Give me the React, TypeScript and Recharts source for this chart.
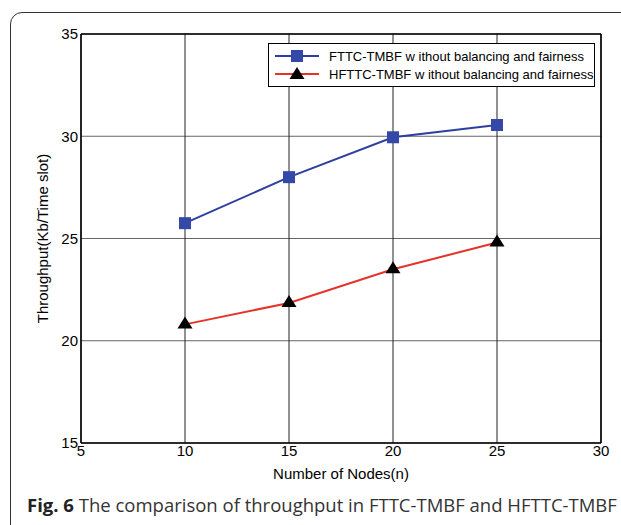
import React from 'react';
import { LineChart, Line, XAxis, YAxis, CartesianGrid, ReferenceLine } from 'recharts';

const nodes = [10, 15, 20, 25];
const fttcThroughput = [25.75, 28.0, 29.95, 30.55];
const hfttcThroughput = [20.8, 21.85, 23.5, 24.8];
const xTicks = [5, 10, 15, 20, 25, 30];
const yTicks = [15, 20, 25, 30, 35];

const FTTC_NAME = 'FTTC-TMBF w ithout balancing and fairness';
const HFTTC_NAME = 'HFTTC-TMBF w ithout balancing and fairness';

const BLUE = '#2E3F9E';
const BLUE_MARK = '#3448A8';
const RED = '#E5332A';

const data = nodes.map((n, i) => ({ n, fttc: fttcThroughput[i], hfttc: hfttcThroughput[i] }));

const FONT = '"Liberation Sans", Arial, sans-serif';

const SquareDot = (props: any) => {
  const { cx, cy } = props;
  return <rect x={cx - 6} y={cy - 6} width={12} height={12} fill={BLUE_MARK} />;
};

const TriangleDot = (props: any) => {
  const { cx, cy } = props;
  return <polygon points={`${cx},${cy - 8} ${cx - 7.5},${cy + 4} ${cx + 7.5},${cy + 4}`} fill="#000" />;
};

// legend drawn as a plain box over the plot, like the matlab one
const LegendBox = () => (
  <div
    style={{
      position: 'absolute',
      left: 268,
      top: 43,
      width: 327,
      height: 44,
      border: '1.5px solid #000',
      background: '#fff',
      fontFamily: FONT,
      fontSize: 13,
      color: '#000',
      boxSizing: 'border-box',
      paddingTop: 3,
      whiteSpace: 'nowrap',
    }}
  >
    {[
      { name: FTTC_NAME, color: BLUE, tri: false },
      { name: HFTTC_NAME, color: RED, tri: true },
    ].map((row) => (
      <div key={row.name} style={{ display: 'flex', alignItems: 'center', height: 18 }}>
        <svg width={50} height={16} style={{ marginLeft: 6, flexShrink: 0 }}>
          <line x1={0} x2={44} y1={8} y2={8} stroke={row.color} strokeWidth={2} />
          {row.tri ? (
            <polygon points="22,1 14.5,13 29.5,13" fill="#000" />
          ) : (
            <rect x={16} y={2} width={12} height={12} fill={BLUE_MARK} />
          )}
        </svg>
        <span style={{ marginLeft: 4 }}>{row.name}</span>
      </div>
    ))}
  </div>
);

export default function App() {
  return (
    <div style={{ position: 'absolute', left: 0, top: 0, width: 621, height: 525, overflow: 'hidden', background: '#fff' }}>
      <div
        style={{
          position: 'absolute',
          left: 10,
          top: 12,
          width: 640,
          height: 530,
          border: '1.5px solid #333',
          borderRadius: 12,
        }}
      />
      <div style={{ position: 'absolute', left: 0, top: 0 }}>
        <LineChart width={621} height={525} data={data} margin={{ top: 34, right: 20, bottom: 52, left: 41 }}>
          <CartesianGrid stroke="#666" strokeWidth={1} vertical={false} />
          <CartesianGrid stroke="#222" strokeWidth={1} horizontal={false} />
          <XAxis
            dataKey="n"
            type="number"
            domain={[5, 30]}
            ticks={xTicks}
            height={30}
            tickSize={0}
            tickMargin={2}
            axisLine={{ stroke: '#000', strokeWidth: 1.5 }}
            tick={{ fill: '#000', fontSize: 15, fontFamily: FONT }}
            label={{ value: 'Number of Nodes(n)', position: 'bottom', offset: -5, fill: '#000', fontSize: 15, fontFamily: FONT }}
          />
          <YAxis
            type="number"
            domain={[15, 35]}
            ticks={yTicks}
            width={40}
            tickSize={0}
            tickMargin={3}
            axisLine={{ stroke: '#000', strokeWidth: 1.5 }}
            tick={{ fill: '#000', fontSize: 15, fontFamily: FONT }}
            label={{
              value: 'Throughput(Kb/Time slot)',
              angle: -90,
              position: 'insideLeft',
              offset: 2,
              fill: '#000',
              fontSize: 15,
              fontFamily: FONT,
              style: { textAnchor: 'middle' },
            }}
          />
          <ReferenceLine x={30} stroke="#000" strokeWidth={1.5} />
          <ReferenceLine y={35} stroke="#000" strokeWidth={1.5} />
          <Line
            dataKey="fttc"
            name={FTTC_NAME}
            stroke={BLUE}
            strokeWidth={2}
            dot={<SquareDot />}
            activeDot={false}
            isAnimationActive={false}
          />
          <Line
            dataKey="hfttc"
            name={HFTTC_NAME}
            stroke={RED}
            strokeWidth={2}
            dot={<TriangleDot />}
            activeDot={false}
            isAnimationActive={false}
          />
        </LineChart>
      </div>
      <LegendBox />
      <div
        style={{
          position: 'absolute',
          left: 27,
          top: 492,
          fontFamily: '"Open Sans", "Noto Sans", sans-serif',
          fontSize: 18.5,
          color: '#333',
          whiteSpace: 'nowrap',
        }}
      >
        <b style={{ color: '#222' }}>Fig. 6</b> The comparison of throughput in FTTC-TMBF and HFTTC-TMBF
      </div>
    </div>
  );
}
